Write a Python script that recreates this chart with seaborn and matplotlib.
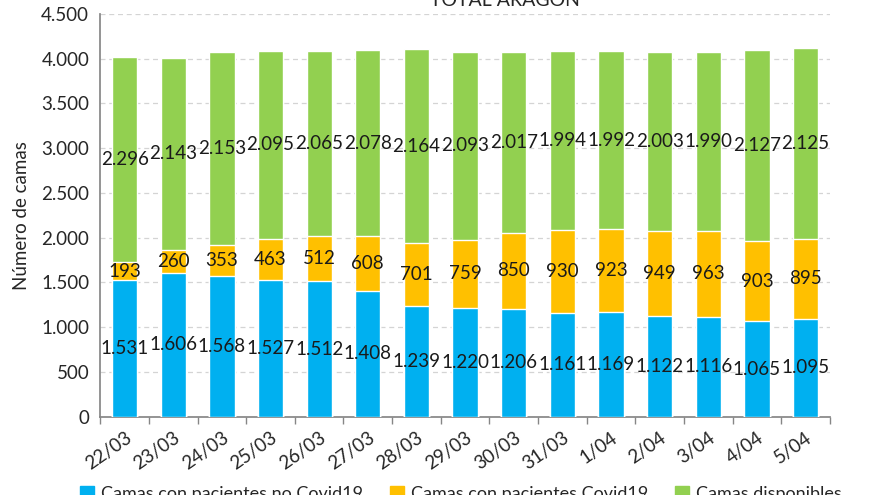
import numpy as np
import matplotlib.pyplot as plt
import matplotlib.patches as mpatches
import seaborn as sns
import pandas as pd

fechas = ['22/03', '23/03', '24/03', '25/03', '26/03', '27/03', '28/03', '29/03',
          '30/03', '31/03', '1/04', '2/04', '3/04', '4/04', '5/04']
no_covid = [1531, 1606, 1568, 1527, 1512, 1408, 1239, 1220, 1206, 1161, 1169, 1122, 1116, 1065, 1095]
covid = [193, 260, 353, 463, 512, 608, 701, 759, 850, 930, 923, 949, 963, 903, 895]
disponibles = [2296, 2143, 2153, 2095, 2065, 2078, 2164, 2093, 2017, 1994, 1992, 2003, 1990, 2127, 2125]

series = ['Camas con pacientes no Covid19', 'Camas con pacientes Covid19', 'Camas disponibles']
colores = ['#00B0F0', '#FFC000', '#92D050']


def miles(v):
    return '{:,}'.format(int(v)).replace(',', '.')


def main():
    sns.set_theme(style='white')
    plt.rcParams['font.family'] = ['Lato', 'DejaVu Sans']

    df = pd.DataFrame({'fecha': fechas, 'no_covid': no_covid, 'covid': covid, 'disp': disponibles})
    df['c1'] = df['no_covid']
    df['c2'] = df['no_covid'] + df['covid']
    df['c3'] = df['c2'] + df['disp']

    fig = plt.figure(figsize=(8.8, 4.95), dpi=100)
    ax = fig.add_axes([0.114, 0.158, 0.829, 0.814])

    # stacked bars: draw cumulative totals from top layer down
    for col, color in zip(['c3', 'c2', 'c1'], colores[::-1]):
        sns.barplot(data=df, x='fecha', y=col, color=color, width=0.52,
                    saturation=1, ax=ax, zorder=3)

    # value labels centred in each segment
    for i in range(len(df)):
        segs = [(0, no_covid[i]), (df['c1'][i], covid[i]), (df['c2'][i], disponibles[i])]
        for base, val in segs:
            ax.text(i, base + val / 2, miles(val), ha='center', va='center',
                    fontsize=13.5, color='#1a1a1a', zorder=5)

    ax.set_ylim(0, 4500)
    ax.set_xlim(-0.5, len(df) - 0.5)
    ax.set_yticks(np.arange(0, 4501, 500))
    ax.set_yticklabels([miles(v) for v in np.arange(0, 4501, 500)], fontsize=13.5)
    ax.set_xticks(range(len(df)))
    ax.set_xticklabels(fechas, rotation=35, ha='right', rotation_mode='anchor', fontsize=13.5)
    ax.set_xticks(np.arange(-0.5, len(df), 1), minor=True)
    ax.tick_params(axis='x', which='major', length=0, pad=9)
    ax.tick_params(axis='x', which='minor', length=5, color='#868686', direction='out', bottom=True)
    ax.tick_params(axis='y', length=0, pad=8)
    ax.yaxis.grid(True, linestyle=(0, (4, 3)), color='#d4d4d4', linewidth=0.9, zorder=0)
    ax.set_axisbelow(True)
    ax.set_xlabel('')
    ax.set_ylabel('Número de camas', fontsize=13.5, labelpad=8)
    sns.despine(ax=ax)
    for s in ['left', 'bottom']:
        ax.spines[s].set_color('#868686')

    fig.text(0.574, 0.982, 'TOTAL ARAGÓN', ha='center', va='bottom', fontsize=14)

    handles = [mpatches.Patch(color=c, label=l) for c, l in zip(colores, series)]
    fig.legend(handles=handles, loc='upper center', bbox_to_anchor=(0.524, 0.052),
               ncol=3, frameon=False, fontsize=13, columnspacing=1.5,
               handlelength=0.75, handleheight=0.75, handletextpad=0.4)

    fig.savefig('out.png', dpi=100)


if __name__ == '__main__':
    main()
